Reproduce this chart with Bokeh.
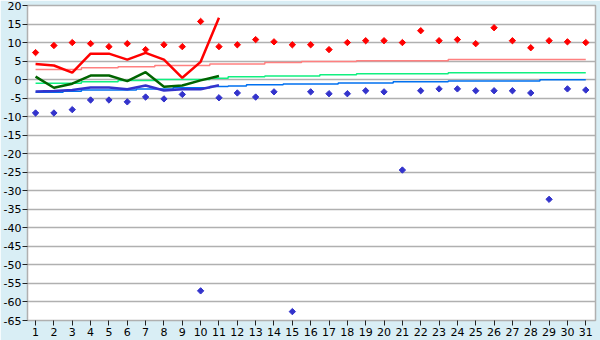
import math
from bokeh.plotting import figure
from bokeh.models import FixedTicker
from bokeh.embed import file_html
from bokeh.resources import INLINE

days = list(range(1, 32))

max_pts = [7.3, 9.2, 10.0, 9.7, 8.9, 9.7, 8.1, 9.4, 8.9, 15.7, 8.9,
           9.4, 10.8, 10.2, 9.4, 9.4, 8.1, 10.0, 10.5, 10.5, 10.0,
           13.2, 10.5, 10.8, 9.7, 14.0, 10.5, 8.6, 10.5, 10.2, 10.0]
min_pts = [-9.0, -9.0, -8.1, -5.5, -5.5, -6.0, -4.7, -5.2, -4.0, -57.0, -4.9,
           -3.6, -4.7, -3.3, -62.6, -3.3, -3.8, -3.8, -3.0, -3.3, -24.4,
           -3.0, -2.5, -2.5, -3.0, -3.0, -3.0, -3.6, -32.3, -2.5, -2.8]

obs_days = list(range(1, 12))
max_line = [4.2, 3.8, 1.9, 7.0, 7.0, 5.4, 7.2, 5.4, 0.5, 4.8, 16.7]
mean_line = [0.8, -2.2, -1.1, 1.1, 1.1, -0.4, 2.0, -1.9, -1.6, -0.2, 1.0]
min_line = [-3.2, -3.1, -2.8, -2.1, -2.1, -2.6, -1.6, -2.95, -2.6, -2.6, -1.5]

norm_max = [2.7] * 3 + [3.2] * 2 + [3.5] * 2 + [3.8] * 3 + [4.2] * 3 + [4.6] * 2 + \
           [4.9] * 3 + [5.1] * 5 + [5.4] * 8
norm_mean = [-1.0] * 3 + [-0.6] * 2 + [-0.25] * 2 + [0.05] * 3 + [0.4] + [0.75] * 2 + \
            [1.0] * 3 + [1.3] * 2 + [1.55] * 5 + [1.85] * 8
norm_min = [-3.4] * 2 + [-3.15] + [-2.8] * 3 + [-2.5] * 2 + [-2.2] * 2 + [-1.85] + [-1.7] + \
           [-1.4] * 2 + [-1.15] * 3 + [-0.9] * 3 + [-0.6] * 3 + [-0.35] * 5 + [-0.05] * 3

y_ticks = list(range(-65, 21, 5))
y_labels = {t: str(t) for t in y_ticks}


def stepify(xs, ys):
    sx, sy = [xs[0]], [ys[0]]
    for i in range(1, len(xs)):
        if ys[i] != ys[i - 1]:
            m = (xs[i] + xs[i - 1]) / 2
            sx += [m, m]
            sy += [ys[i - 1], ys[i]]
    sx.append(xs[-1])
    sy.append(ys[-1])
    return sx, sy


BG = "#d9eef5"
GRID = "#b0b0b0"

p = figure(width=600, height=340, output_backend="svg", toolbar_location=None,
           x_range=(0.56, 31.53), y_range=(-65, 20),
           min_border_left=27, min_border_right=5, min_border_top=5, min_border_bottom=20)
p.border_fill_color = BG
p.background_fill_color = "white"
p.outline_line_color = GRID
p.outline_line_width = 1.5

p.xgrid.grid_line_color = None
p.ygrid.grid_line_color = GRID
p.ygrid.grid_line_width = 1.5

p.xaxis.ticker = FixedTicker(ticks=days)
p.yaxis.ticker = FixedTicker(ticks=y_ticks)
p.yaxis.major_label_overrides = y_labels
for ax in (p.xaxis, p.yaxis):
    ax.axis_line_color = GRID
    ax.major_tick_line_color = "#222222"
    ax.minor_tick_line_color = None
    ax.major_tick_in = 0
    ax.major_label_text_font = "DejaVu Sans"
    ax.major_label_text_font_size = "11px"
    ax.major_label_text_color = "black"
p.xaxis.major_tick_out = 5
p.xaxis.major_label_standoff = 2
p.yaxis.major_tick_out = 5
p.yaxis.major_label_standoff = 1

for vals, col in ((norm_max, "#ff8080"), (norm_mean, "#10f080"), (norm_min, "#0070f0")):
    sx, sy = stepify(days, vals)
    p.line(sx, sy, line_color=col, line_width=1.5)

p.line(obs_days, max_line, line_color="#ff0000", line_width=2.5)
p.line(obs_days, mean_line, line_color="#006400", line_width=2.5)
p.line(obs_days, min_line, line_color="#3333cc", line_width=2.5)

p.scatter(days, max_pts, marker="square", angle=math.pi / 4, size=4.5,
          fill_color="#ff0000", line_color="#ff0000", line_width=1)
p.scatter(days, min_pts, marker="square", angle=math.pi / 4, size=4.5,
          fill_color="#3333cc", line_color="#3333cc", line_width=1)

open("out.html", "w").write(file_html(p, INLINE))
